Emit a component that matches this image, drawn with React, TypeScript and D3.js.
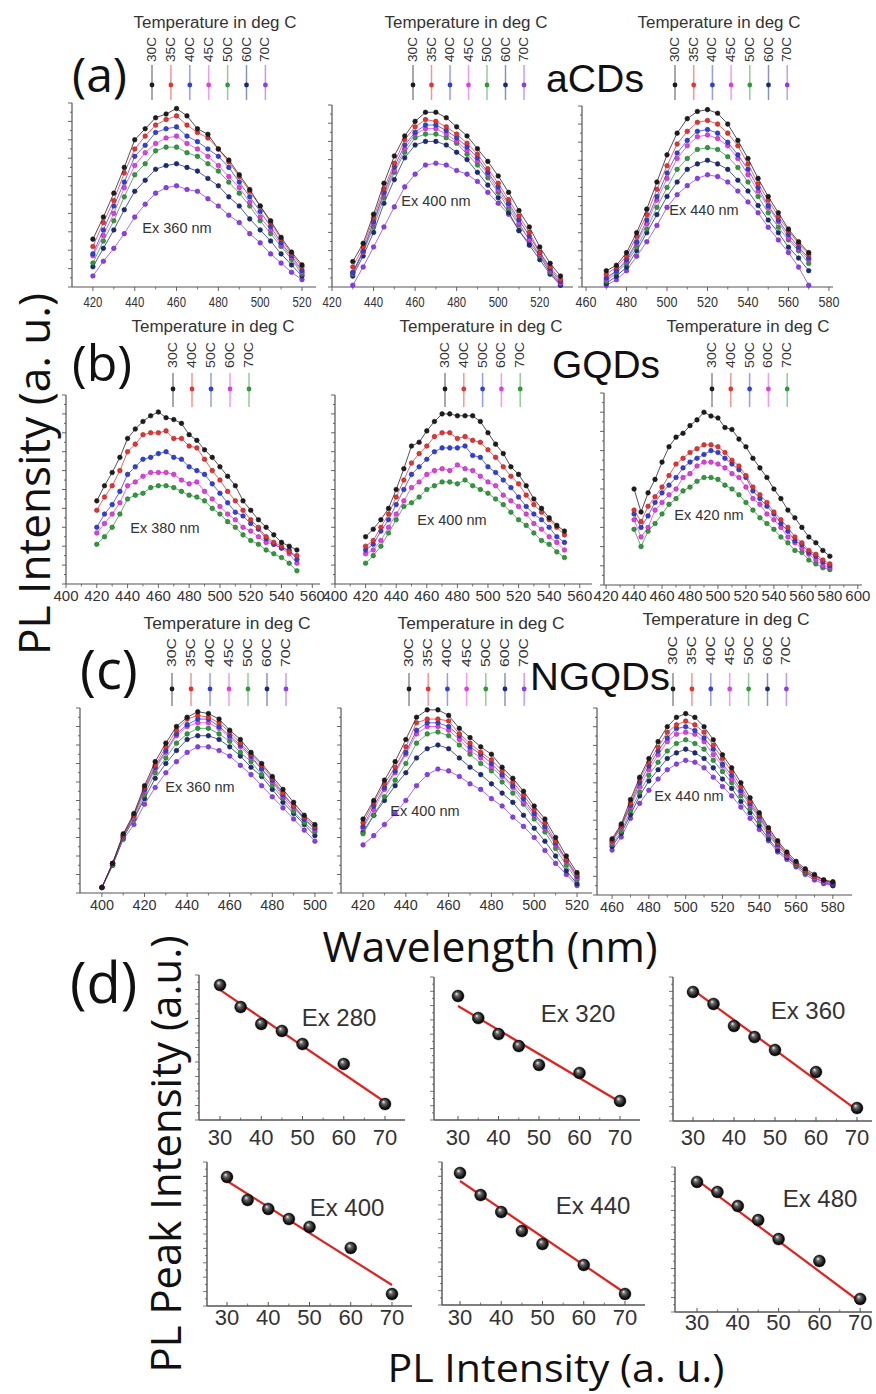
import React from 'react';
import * as d3 from 'd3';

// ---------- data ----------
const TEMPS_7 = ['30C', '35C', '40C', '45C', '50C', '60C', '70C'];
const TEMPS_5 = ['30C', '40C', '50C', '60C', '70C'];
const COLORS_7 = ['#1c1c1c', '#e8322d', '#2f3ee0', '#e23ce2', '#2e9a3a', '#1b2a7a', '#8b3cf0'];
const COLORS_5 = ['#1c1c1c', '#e8322d', '#2f3ee0', '#e23ce2', '#2e9a3a'];

const TICKS_A12 = [420, 440, 460, 480, 500, 520];
const TICKS_A3 = [460, 480, 500, 520, 540, 560, 580];
const TICKS_B12 = [400, 420, 440, 460, 480, 500, 520, 540, 560];
const TICKS_B3 = [420, 440, 460, 480, 500, 520, 540, 560, 580, 600];
const TICKS_C1 = [400, 420, 440, 460, 480, 500];
const TICKS_C2 = [420, 440, 460, 480, 500, 520];
const TICKS_C3 = [460, 480, 500, 520, 540, 560, 580];

// wavelengths (nm)
const WL_A1 = [420, 425, 430, 435, 440, 445, 450, 455, 460, 465, 470, 475, 480, 485, 490, 495, 500, 505, 510, 515, 520];
const WL_A2 = [430, 435, 440, 445, 450, 455, 460, 465, 470, 475, 480, 485, 490, 495, 500, 505, 510, 515, 520, 525, 530];
const WL_A3 = [470, 475, 480, 485, 490, 495, 500, 505, 510, 515, 520, 525, 530, 535, 540, 545, 550, 555, 560, 565, 570];
const WL_B12 = [420, 425, 430, 435, 440, 445, 450, 455, 460, 465, 470, 475, 480, 485, 490, 495, 500, 505, 510, 515, 520, 525, 530, 535, 540, 545, 550];
const WL_B3 = [440, 445, 450, 455, 460, 465, 470, 475, 480, 485, 490, 495, 500, 505, 510, 515, 520, 525, 530, 535, 540, 545, 550, 555, 560, 565, 570, 575, 580];
const WL_C1 = [400, 405, 410, 415, 420, 425, 430, 435, 440, 445, 450, 455, 460, 465, 470, 475, 480, 485, 490, 495, 500];
const WL_C2 = [420, 425, 430, 435, 440, 445, 450, 455, 460, 465, 470, 475, 480, 485, 490, 495, 500, 505, 510, 515, 520];
const WL_C3 = [460, 465, 470, 475, 480, 485, 490, 495, 500, 505, 510, 515, 520, 525, 530, 535, 540, 545, 550, 555, 560, 565, 570, 575, 580];

// PL intensity (a.u., 0..100 of axis height), one row per temperature
const A1_VALUES = [
  [26, 38, 51, 65, 80, 86, 92, 94, 97, 93, 86, 83, 75, 69, 61, 53, 44, 36, 27, 19, 12],
  [22, 35, 47, 62, 75, 82, 88, 91, 93, 88, 84, 81, 75, 68, 60, 52, 44, 35, 26, 18, 11],
  [18, 31, 44, 57, 71, 77, 84, 86, 87, 82, 79, 75, 71, 65, 57, 49, 41, 33, 24, 17, 9],
  [17, 28, 40, 54, 66, 73, 78, 81, 82, 78, 75, 71, 66, 60, 54, 46, 38, 31, 23, 16, 8],
  [13, 25, 36, 49, 61, 67, 74, 76, 76, 73, 71, 67, 63, 57, 51, 44, 36, 29, 22, 15, 7],
  [11, 21, 31, 42, 52, 58, 64, 66, 67, 65, 63, 59, 55, 49, 44, 37, 31, 25, 18, 12, 6],
  [6, 14, 21, 29, 38, 45, 51, 54, 55, 53, 52, 48, 44, 39, 35, 29, 24, 18, 13, 8, 4],
];
const A2_VALUES = [
  [14, 24, 40, 57, 72, 83, 91, 96, 96, 93, 88, 83, 76, 69, 61, 52, 42, 33, 22, 13, 6],
  [11, 22, 38, 54, 68, 81, 88, 92, 91, 88, 84, 79, 73, 65, 57, 48, 39, 30, 19, 11, 4],
  [8, 20, 36, 52, 66, 78, 85, 89, 89, 86, 82, 77, 71, 63, 55, 46, 37, 28, 19, 10, 3],
  [8, 19, 35, 51, 64, 76, 84, 87, 87, 84, 80, 75, 69, 62, 53, 45, 35, 26, 18, 9, 2],
  [7, 19, 33, 49, 63, 74, 82, 84, 84, 82, 79, 73, 67, 60, 52, 43, 34, 26, 17, 8, 2],
  [6, 17, 30, 46, 59, 71, 78, 80, 80, 78, 74, 70, 63, 56, 49, 41, 31, 23, 15, 7, 1],
  [1, 11, 22, 33, 44, 55, 62, 67, 68, 67, 64, 62, 58, 52, 46, 40, 31, 24, 17, 8, 1],
];
const A3_VALUES = [
  [9, 12, 19, 30, 43, 58, 73, 85, 93, 97, 98, 96, 90, 81, 71, 60, 50, 41, 32, 25, 19],
  [7, 11, 17, 28, 40, 54, 67, 79, 86, 91, 92, 90, 85, 78, 68, 57, 48, 39, 31, 24, 18],
  [5, 9, 15, 25, 37, 50, 63, 74, 81, 86, 87, 85, 80, 73, 65, 55, 45, 37, 29, 22, 16],
  [4, 9, 14, 24, 35, 48, 60, 71, 78, 83, 84, 82, 78, 71, 62, 53, 44, 36, 27, 21, 15],
  [3, 8, 13, 22, 32, 44, 55, 65, 71, 76, 77, 76, 72, 66, 58, 50, 41, 33, 26, 20, 13],
  [2, 6, 11, 20, 30, 40, 50, 58, 65, 68, 70, 68, 65, 59, 53, 45, 37, 30, 22, 16, 9],
  [1, 4, 9, 17, 25, 34, 44, 51, 56, 60, 62, 61, 58, 53, 47, 41, 33, 26, 19, 11, 1],
];
const B1_VALUES = [
  [44, 52, 59, 67, 77, 82, 86, 89, 91, 88, 87, 85, 79, 76, 71, 67, 62, 57, 52, 44, 39, 34, 30, 26, 22, 20, 18],
  [39, 46, 52, 60, 70, 74, 79, 80, 80, 81, 77, 77, 73, 72, 66, 60, 55, 49, 44, 39, 34, 30, 25, 22, 20, 17, 15],
  [30, 37, 42, 49, 58, 62, 66, 67, 69, 70, 67, 66, 62, 60, 58, 53, 48, 43, 38, 36, 32, 29, 24, 21, 19, 18, 13],
  [27, 32, 37, 43, 52, 54, 57, 59, 59, 59, 58, 55, 53, 54, 49, 45, 41, 37, 34, 30, 28, 25, 22, 21, 19, 16, 11],
  [21, 25, 30, 37, 45, 47, 48, 51, 52, 52, 51, 49, 47, 46, 44, 40, 37, 33, 30, 26, 23, 21, 18, 16, 14, 11, 7],
];
const B2_VALUES = [
  [25, 29, 34, 40, 50, 61, 73, 75, 81, 86, 90, 90, 89, 89, 89, 86, 80, 74, 69, 62, 58, 52, 45, 40, 35, 31, 28],
  [20, 23, 30, 37, 46, 55, 64, 69, 73, 78, 80, 80, 77, 78, 76, 75, 71, 67, 62, 57, 53, 47, 42, 38, 34, 30, 26],
  [18, 21, 28, 34, 42, 50, 58, 62, 66, 70, 72, 72, 72, 73, 68, 67, 62, 59, 55, 51, 46, 41, 37, 34, 30, 25, 22],
  [16, 18, 23, 30, 37, 44, 51, 54, 58, 60, 61, 60, 63, 61, 60, 57, 54, 52, 47, 44, 41, 37, 32, 29, 25, 22, 18],
  [11, 15, 20, 27, 34, 41, 43, 46, 50, 52, 54, 54, 53, 55, 52, 50, 48, 45, 42, 38, 34, 31, 27, 23, 21, 17, 14],
];
const B3_VALUES = [
  [50, 38, 48, 55, 64, 72, 77, 79, 83, 86, 90, 88, 87, 82, 81, 76, 72, 66, 61, 56, 50, 45, 39, 35, 30, 25, 22, 18, 15],
  [39, 33, 41, 46, 51, 57, 63, 66, 69, 71, 73, 73, 72, 69, 65, 62, 57, 51, 47, 43, 38, 34, 30, 25, 22, 18, 16, 13, 11],
  [37, 30, 36, 43, 48, 52, 56, 61, 64, 66, 68, 70, 69, 66, 63, 60, 56, 49, 45, 41, 37, 32, 28, 23, 21, 17, 15, 12, 10],
  [34, 25, 30, 39, 43, 47, 50, 56, 58, 62, 64, 64, 63, 61, 58, 56, 51, 45, 42, 37, 34, 30, 25, 22, 19, 16, 13, 10, 9],
  [29, 20, 28, 32, 37, 42, 45, 49, 51, 54, 56, 56, 55, 52, 50, 47, 43, 39, 35, 32, 29, 25, 22, 18, 17, 13, 11, 9, 8],
];
const C1_VALUES = [
  [3, 16, 32, 43, 58, 71, 81, 90, 95, 98, 97, 94, 88, 83, 76, 70, 63, 56, 49, 42, 37],
  [3, 16, 31, 42, 57, 69, 79, 88, 94, 96, 95, 92, 87, 81, 75, 69, 62, 54, 47, 41, 36],
  [3, 16, 31, 42, 56, 68, 77, 86, 91, 94, 94, 90, 85, 80, 74, 67, 61, 53, 47, 40, 35],
  [3, 16, 31, 41, 55, 67, 76, 85, 90, 92, 92, 89, 84, 79, 73, 67, 60, 52, 46, 40, 34],
  [3, 15, 30, 40, 53, 65, 73, 81, 86, 89, 89, 86, 82, 76, 71, 64, 58, 51, 44, 38, 33],
  [3, 15, 30, 40, 51, 62, 70, 77, 83, 85, 85, 83, 79, 74, 68, 63, 56, 49, 43, 37, 31],
  [3, 15, 29, 37, 48, 57, 65, 71, 76, 79, 79, 77, 74, 69, 64, 58, 52, 46, 40, 34, 28],
];
const C2_VALUES = [
  [40, 50, 61, 71, 83, 95, 99, 99, 96, 89, 84, 79, 75, 68, 62, 55, 47, 40, 30, 20, 11],
  [38, 49, 59, 68, 79, 92, 94, 94, 93, 86, 81, 76, 72, 66, 60, 53, 45, 38, 28, 18, 10],
  [36, 47, 57, 66, 76, 88, 92, 92, 90, 85, 79, 75, 70, 64, 58, 51, 43, 36, 27, 18, 9],
  [35, 45, 56, 65, 75, 86, 90, 90, 88, 83, 77, 73, 68, 63, 57, 49, 42, 35, 26, 17, 8],
  [32, 42, 52, 61, 70, 81, 86, 87, 85, 80, 75, 70, 66, 60, 54, 48, 40, 33, 24, 15, 7],
  [33, 42, 50, 58, 65, 73, 78, 80, 78, 73, 68, 64, 59, 54, 49, 42, 35, 28, 20, 12, 5],
  [26, 31, 37, 43, 50, 58, 64, 67, 66, 63, 59, 56, 51, 47, 41, 36, 30, 23, 16, 10, 4],
];
const C3_VALUES = [
  [30, 38, 51, 63, 73, 82, 90, 95, 97, 95, 90, 83, 75, 68, 60, 52, 44, 36, 29, 23, 18, 14, 11, 8, 7],
  [29, 37, 49, 62, 71, 79, 87, 91, 93, 91, 87, 80, 73, 66, 58, 50, 43, 35, 28, 22, 17, 13, 10, 8, 7],
  [29, 37, 48, 60, 69, 77, 84, 89, 90, 88, 84, 78, 70, 64, 56, 49, 42, 34, 27, 22, 17, 13, 10, 8, 6],
  [28, 36, 47, 58, 67, 75, 82, 86, 87, 86, 82, 75, 69, 62, 55, 48, 41, 33, 26, 21, 17, 13, 9, 7, 6],
  [27, 34, 45, 55, 64, 71, 77, 81, 83, 81, 78, 72, 66, 60, 53, 46, 39, 32, 26, 21, 16, 12, 9, 7, 6],
  [26, 33, 43, 53, 61, 67, 73, 76, 78, 76, 73, 68, 62, 57, 50, 44, 37, 30, 24, 20, 16, 12, 9, 7, 5],
  [24, 31, 41, 49, 56, 62, 67, 70, 72, 71, 68, 63, 58, 53, 47, 41, 35, 29, 23, 19, 15, 11, 8, 6, 5],
];

// panel (d): peak intensity vs temperature
const D_TEMPS = [30, 35, 40, 45, 50, 60, 70];
const D_TICKS = [30, 40, 50, 60, 70];
const D1_PEAK = [9.31, 7.79, 6.62, 6.14, 5.24, 3.86, 1.1];
const D2_PEAK = [8.67, 7.13, 6.01, 5.17, 3.85, 3.29, 1.33];
const D3_PEAK = [8.96, 8.13, 6.6, 5.83, 4.93, 3.4, 0.9];
const D4_PEAK = [8.96, 7.36, 6.74, 6.04, 5.49, 4.03, 0.83];
const D5_PEAK = [9.23, 7.69, 6.5, 5.17, 4.27, 2.8, 0.77];
const D6_PEAK = [8.97, 8.28, 7.31, 6.34, 5.03, 3.52, 0.9];
// linear fit values at 30 and 70
const D1_FIT = [8.97, 1.24];
const D2_FIT = [7.97, 1.26];
const D3_FIT = [9.1, 0.76];
const D4_FIT = [8.68, 1.46];
const D5_FIT = [8.67, 0.84];
const D6_FIT = [9.1, 0.69];

// ---------- layout ----------
const legendA = { titleY: 28, labelBottom: 62, lineTop: 65, lineBottom: 100, dotY: 85, labelLen: 25, titleLen: 163 };
const legendB = { titleY: 332, labelBottom: 368, lineTop: 373, lineBottom: 407, dotY: 389, labelLen: 26, titleLen: 163 };
const legendC = { titleY: 629, labelBottom: 667, lineTop: 673, lineBottom: 706, dotY: 689, labelLen: 29, titleLen: 167 };

const SPECTRA = [
  { id: 'a1', wl: WL_A1, values: A1_VALUES, temps: TEMPS_7, colors: COLORS_7, ticks: TICKS_A12, ex: 'Ex 360 nm',
    xDomain: [410, 526.7], xRange: [72, 316], yRange: [287, 103], exPos: [177, 228], tickY: 302, tickLen: 19,
    legend: { ...legendA, titleX: 215, x0: 152, dx: 18.9 } },
  { id: 'a2', wl: WL_A2, values: A2_VALUES, temps: TEMPS_7, colors: COLORS_7, ticks: TICKS_A12, ex: 'Ex 400 nm',
    xDomain: [420, 536], xRange: [332, 573], yRange: [287, 105], exPos: [436, 201], tickY: 302, tickLen: 19,
    legend: { ...legendA, titleX: 466, x0: 413, dx: 18.5 } },
  { id: 'a3', wl: WL_A3, values: A3_VALUES, temps: TEMPS_7, colors: COLORS_7, ticks: TICKS_A3, ex: 'Ex 440 nm',
    xDomain: [458, 582], xRange: [582, 833], yRange: [287, 106], exPos: [704, 210], tickY: 302, tickLen: 21,
    legend: { ...legendA, titleX: 719, x0: 675, dx: 18.7 } },
  { id: 'b1', wl: WL_B12, values: B1_VALUES, temps: TEMPS_5, colors: COLORS_5, ticks: TICKS_B12, ex: 'Ex 380 nm',
    xDomain: [400, 565], xRange: [66, 320], yRange: [584, 395], exPos: [165, 528], tickY: 596, tickLen: 25,
    legend: { ...legendB, titleX: 213, x0: 173, dx: 19 } },
  { id: 'b2', wl: WL_B12, values: B2_VALUES, temps: TEMPS_5, colors: COLORS_5, ticks: TICKS_B12, ex: 'Ex 400 nm',
    xDomain: [400, 568], xRange: [335, 592], yRange: [584, 395], exPos: [452, 520], tickY: 596, tickLen: 25,
    legend: { ...legendB, titleX: 481, x0: 445, dx: 18.8 } },
  { id: 'b3', wl: WL_B3, values: B3_VALUES, temps: TEMPS_5, colors: COLORS_5, ticks: TICKS_B3, ex: 'Ex 420 nm',
    xDomain: [418.5, 603], xRange: [604, 862], yRange: [585, 393], exPos: [709, 515], tickY: 596, tickLen: 25,
    legend: { ...legendB, titleX: 748, x0: 712, dx: 18.8 } },
  { id: 'c1', wl: WL_C1, values: C1_VALUES, temps: TEMPS_7, colors: COLORS_7, ticks: TICKS_C1, ex: 'Ex 360 nm',
    xDomain: [389.7, 508.5], xRange: [80, 333], yRange: [893, 708], exPos: [200, 787], tickY: 905, tickLen: 24,
    legend: { ...legendC, titleX: 227, x0: 172, dx: 19 } },
  { id: 'c2', wl: WL_C2, values: C2_VALUES, temps: TEMPS_7, colors: COLORS_7, ticks: TICKS_C2, ex: 'Ex 400 nm',
    xDomain: [409.7, 527], xRange: [341, 592], yRange: [893, 708], exPos: [425, 811], tickY: 905, tickLen: 24,
    legend: { ...legendC, titleX: 481, x0: 409, dx: 19.2 } },
  { id: 'c3', wl: WL_C3, values: C3_VALUES, temps: TEMPS_7, colors: COLORS_7, ticks: TICKS_C3, ex: 'Ex 440 nm',
    xDomain: [451.8, 590.4], xRange: [597, 852], yRange: [895, 708], exPos: [689, 796], tickY: 907, tickLen: 24,
    legend: { ...legendC, titleX: 726, x0: 673, dx: 18.9, titleY: 625, labelBottom: 665 } },
];

const PEAKS = [
  { id: 'd1', peak: D1_PEAK, fit: D1_FIT, ex: 'Ex 280', xDomain: [24.9, 74.85], xRange: [199, 405], yRange: [1120, 975], exPos: [339, 1017], tickY: 1137 },
  { id: 'd2', peak: D2_PEAK, fit: D2_FIT, ex: 'Ex 320', xDomain: [24.07, 74.94], xRange: [434, 640], yRange: [1120, 977], exPos: [578, 1013], tickY: 1137 },
  { id: 'd3', peak: D3_PEAK, fit: D3_FIT, ex: 'Ex 360', xDomain: [25.12, 73.66], xRange: [673, 872], yRange: [1121, 977], exPos: [808, 1010], tickY: 1137 },
  { id: 'd4', peak: D4_PEAK, fit: D4_FIT, ex: 'Ex 400', xDomain: [25.15, 74.85], xRange: [207, 412], yRange: [1306, 1162], exPos: [347, 1207], tickY: 1317 },
  { id: 'd5', peak: D5_PEAK, fit: D5_FIT, ex: 'Ex 440', xDomain: [25.64, 74.85], xRange: [442, 645], yRange: [1305, 1162], exPos: [593, 1205], tickY: 1317 },
  { id: 'd6', peak: D6_PEAK, fit: D6_FIT, ex: 'Ex 480', xDomain: [24.6, 72.9], xRange: [675, 872], yRange: [1312, 1167], exPos: [820, 1198], tickY: 1322 },
];

const SANS = 'Liberation Sans, Arial, sans-serif';
const BIG = 'Open Sans, Noto Sans, sans-serif';
const AXIS = '#555';

function SpectrumPanel({ p }) {
  const x = d3.scaleLinear().domain(p.xDomain).range(p.xRange);
  const y = d3.scaleLinear().domain([0, 100]).range(p.yRange);
  const line = d3.line().x((d, i) => x(p.wl[i])).y(d => y(d));
  const lg = p.legend;
  const step = p.ticks[1] - p.ticks[0];
  const minor = p.ticks.slice(0, -1).map(t => t + step / 2);
  const yTicks = d3.range(0, 101, 5);
  const order = p.values.map((_, i) => i).reverse();
  return (
    <g>
      {/* axes */}
      <line x1={p.xRange[0]} x2={p.xRange[1]} y1={p.yRange[0]} y2={p.yRange[0]} stroke={AXIS} strokeWidth={1.2} />
      <line x1={p.xRange[0]} x2={p.xRange[0]} y1={p.yRange[0]} y2={p.yRange[1]} stroke={AXIS} strokeWidth={1.2} />
      {yTicks.map(t => (
        <line key={'y' + t} x1={p.xRange[0]} x2={p.xRange[0] - (t % 10 === 0 ? 4 : 2)} y1={y(t)} y2={y(t)} stroke={AXIS} strokeWidth={0.9} />
      ))}
      {p.ticks.map(t => (
        <g key={'x' + t}>
          <line x1={x(t)} x2={x(t)} y1={p.yRange[0]} y2={p.yRange[0] + 4} stroke={AXIS} strokeWidth={0.9} />
          <text x={x(t)} y={p.tickY} dy="0.36em" textAnchor="middle" fontFamily={SANS} fontSize={14} fill="#333"
            textLength={p.tickLen} lengthAdjust="spacingAndGlyphs">{t}</text>
        </g>
      ))}
      {minor.map(t => (
        <line key={'m' + t} x1={x(t)} x2={x(t)} y1={p.yRange[0]} y2={p.yRange[0] + 2.5} stroke={AXIS} strokeWidth={0.8} />
      ))}
      {/* series */}
      {order.map(i => {
        const c = p.colors[i];
        const dark = d3.color(c).darker(0.9).formatHex();
        return (
          <g key={p.temps[i]}>
            <path d={line(p.values[i])} fill="none" stroke={c} strokeWidth={0.9} opacity={0.85} />
            {p.values[i].map((v, j) => (
              <circle key={j} cx={x(p.wl[j])} cy={y(v)} r={2.3} fill={c} stroke={dark} strokeWidth={0.6} />
            ))}
          </g>
        );
      })}
      <text x={p.exPos[0]} y={p.exPos[1]} dy="0.36em" textAnchor="middle" fontFamily={SANS} fontSize={14.5} fill="#333">{p.ex}</text>
      {/* legend */}
      <text x={lg.titleX} y={lg.titleY} textAnchor="middle" fontFamily={SANS} fontSize={16} fill="#333"
        textLength={lg.titleLen} lengthAdjust="spacingAndGlyphs">Temperature in deg C</text>
      {p.temps.map((t, i) => {
        const cx = lg.x0 + i * lg.dx;
        return (
          <g key={'lg' + t}>
            <text transform={`translate(${cx + 4},${lg.labelBottom}) rotate(-90)`} fontFamily={SANS} fontSize={12} fill="#333"
              textLength={lg.labelLen} lengthAdjust="spacingAndGlyphs">{t}</text>
            <line x1={cx} x2={cx} y1={lg.lineTop} y2={lg.lineBottom} stroke={p.colors[i]} strokeWidth={1.5} opacity={0.5} />
            <circle cx={cx} cy={lg.dotY} r={2.4} fill={p.colors[i]} />
          </g>
        );
      })}
    </g>
  );
}

function PeakPanel({ p }) {
  const x = d3.scaleLinear().domain(p.xDomain).range(p.xRange);
  const y = d3.scaleLinear().domain([0, 10]).range(p.yRange);
  const yTicks = d3.range(0, 10.01, 0.5);
  const xMinor = [35, 45, 55, 65];
  return (
    <g>
      <line x1={p.xRange[0]} x2={p.xRange[1]} y1={p.yRange[0]} y2={p.yRange[0]} stroke={AXIS} strokeWidth={1.4} />
      <line x1={p.xRange[0]} x2={p.xRange[0]} y1={p.yRange[0]} y2={p.yRange[1]} stroke={AXIS} strokeWidth={1.4} />
      {yTicks.map((t, i) => (
        <line key={'y' + i} x1={p.xRange[0]} x2={p.xRange[0] - (i % 2 === 0 ? 4 : 2)} y1={y(t)} y2={y(t)} stroke={AXIS} strokeWidth={0.8} />
      ))}
      {D_TICKS.map(t => (
        <g key={'x' + t}>
          <line x1={x(t)} x2={x(t)} y1={p.yRange[0]} y2={p.yRange[0] - 4} stroke={AXIS} strokeWidth={1} />
          <text x={x(t)} y={p.tickY} dy="0.36em" textAnchor="middle" fontFamily={SANS} fontSize={22} fill="#333">{t}</text>
        </g>
      ))}
      {xMinor.map(t => (
        <line key={'m' + t} x1={x(t)} x2={x(t)} y1={p.yRange[0]} y2={p.yRange[0] - 2.5} stroke={AXIS} strokeWidth={0.8} />
      ))}
      <line x1={x(30)} y1={y(p.fit[0])} x2={x(70)} y2={y(p.fit[1])} stroke="#e0231e" strokeWidth={2.2} />
      {p.peak.map((v, i) => (
        <circle key={i} cx={x(D_TEMPS[i])} cy={y(v)} r={6} fill="url(#ball)" stroke="#000" strokeWidth={0.4} />
      ))}
      <text x={p.exPos[0]} y={p.exPos[1]} dy="0.36em" textAnchor="middle" fontFamily={SANS} fontSize={24} fill="#333">{p.ex}</text>
    </g>
  );
}

export default function App() {
  return (
    <svg width={876} height={1394} viewBox="0 0 876 1394"
      style={{ position: 'absolute', left: 0, top: 0, background: '#fff' }}>
      <defs>
        <radialGradient id="ball" cx="50%" cy="50%" r="55%" fx="36%" fy="30%">
          <stop offset="0%" stopColor="#f2f2f2" />
          <stop offset="30%" stopColor="#666" />
          <stop offset="75%" stopColor="#111" />
          <stop offset="100%" stopColor="#000" />
        </radialGradient>
      </defs>
      <rect width={876} height={1394} fill="#fff" />
      {SPECTRA.map(p => <SpectrumPanel key={p.id} p={p} />)}
      {PEAKS.map(p => <PeakPanel key={p.id} p={p} />)}

      {/* panel letters and material names */}
      <text x={72} y={92} fontFamily={BIG} fontSize={48} fill="#111">(a)</text>
      <text x={72} y={381} fontFamily={BIG} fontSize={50} fill="#111">(b)</text>
      <text x={80} y={689} fontFamily={BIG} fontSize={54} fill="#111">(c)</text>
      <text x={70} y={1003} fontFamily={BIG} fontSize={56} fill="#111">(d)</text>
      <text x={546} y={92} fontFamily={SANS} fontSize={38} fill="#111" textLength={98} lengthAdjust="spacingAndGlyphs">aCDs</text>
      <text x={552} y={378} fontFamily={SANS} fontSize={39} fill="#111" textLength={108} lengthAdjust="spacingAndGlyphs">GQDs</text>
      <text x={530} y={690} fontFamily={SANS} fontSize={39} fill="#111" textLength={140} lengthAdjust="spacingAndGlyphs">NGQDs</text>

      {/* axis titles */}
      <text transform="translate(50,474) rotate(-90)" textAnchor="middle" fontFamily={BIG} fontSize={44} fill="#111"
        textLength={362} lengthAdjust="spacingAndGlyphs">PL Intensity (a. u.)</text>
      <text x={490} y={962} textAnchor="middle" fontFamily={BIG} fontSize={42} fill="#111"
        textLength={335} lengthAdjust="spacingAndGlyphs">Wavelength (nm)</text>
      <text transform="translate(181,1154) rotate(-90)" textAnchor="middle" fontFamily={BIG} fontSize={42} fill="#111"
        textLength={437} lengthAdjust="spacingAndGlyphs">PL Peak Intensity (a.u.)</text>
      <text x={556} y={1382} textAnchor="middle" fontFamily={BIG} fontSize={38} fill="#111"
        textLength={337} lengthAdjust="spacingAndGlyphs">PL Intensity (a. u.)</text>
    </svg>
  );
}
